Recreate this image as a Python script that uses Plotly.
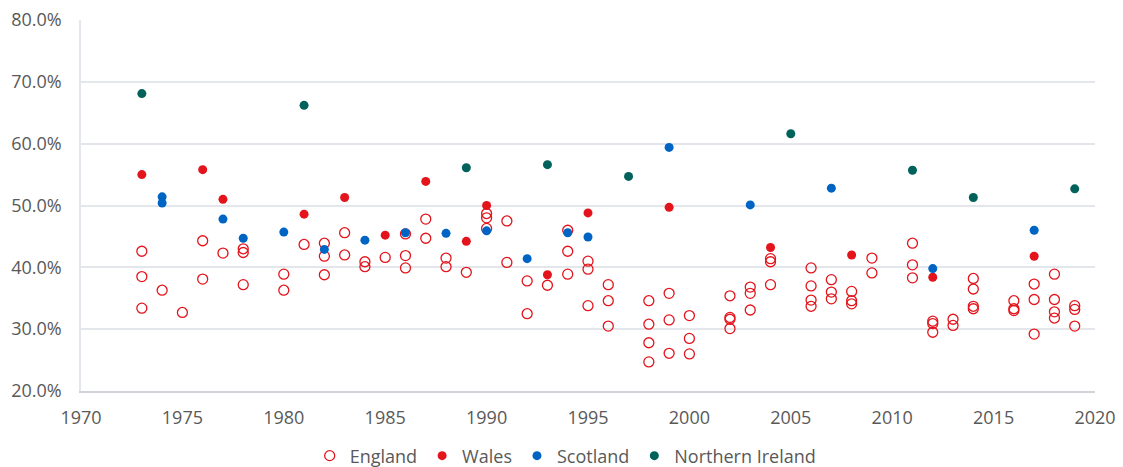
import plotly.graph_objects as go

# Shares (%) by year
england_years = [1973, 1973, 1973, 1974, 1975, 1976, 1976, 1977, 1978, 1978, 1978,
                 1980, 1980, 1981, 1982, 1982, 1982, 1983, 1983, 1984, 1984,
                 1985, 1986, 1986, 1986, 1987, 1987, 1988, 1988, 1989,
                 1990, 1990, 1990, 1991, 1991, 1992, 1992, 1993,
                 1994, 1994, 1994, 1995, 1995, 1995, 1996, 1996, 1996,
                 1998, 1998, 1998, 1998, 1999, 1999, 1999, 2000, 2000, 2000,
                 2002, 2002, 2002, 2002, 2003, 2003, 2003, 2004, 2004, 2004,
                 2006, 2006, 2006, 2006, 2007, 2007, 2007, 2008, 2008, 2008,
                 2009, 2009, 2011, 2011, 2011, 2012, 2012, 2012, 2013, 2013,
                 2014, 2014, 2014, 2014, 2016, 2016, 2016, 2017, 2017, 2017,
                 2018, 2018, 2018, 2018, 2019, 2019, 2019]
england_vals = [42.6, 38.5, 33.4, 36.3, 32.7, 44.3, 38.1, 42.3, 43.0, 42.4, 37.2,
                38.9, 36.3, 43.7, 43.9, 41.8, 38.8, 45.6, 42.0, 40.9, 40.1,
                41.6, 45.4, 41.9, 39.9, 47.8, 44.7, 41.5, 40.1, 39.2,
                48.7, 48.0, 46.3, 47.5, 40.8, 37.8, 32.5, 37.1,
                46.0, 42.6, 38.9, 41.0, 39.7, 33.8, 37.2, 34.6, 30.5,
                34.6, 30.8, 27.8, 24.7, 35.8, 31.5, 26.1, 32.2, 28.5, 26.0,
                35.4, 31.9, 31.6, 30.1, 36.8, 35.8, 33.1, 41.4, 40.9, 37.2,
                39.9, 37.0, 34.7, 33.7, 38.0, 36.0, 34.9, 36.1, 34.6, 34.1,
                41.5, 39.1, 43.9, 40.4, 38.3, 31.3, 30.9, 29.5, 31.6, 30.6,
                38.2, 36.5, 33.7, 33.3, 34.6, 33.3, 33.0, 37.3, 34.8, 29.2,
                38.9, 34.8, 32.8, 31.8, 33.8, 33.2, 30.5]

wales_years = [1973, 1976, 1977, 1981, 1983, 1985, 1987, 1989, 1990, 1993,
               1995, 1999, 2004, 2008, 2012, 2017]
wales_vals = [55.0, 55.8, 51.0, 48.6, 51.3, 45.2, 53.9, 44.2, 50.0, 38.8,
              48.8, 49.7, 43.2, 42.0, 38.4, 41.8]

scotland_years = [1974, 1974, 1977, 1978, 1980, 1982, 1984, 1986, 1988, 1990,
                  1992, 1994, 1995, 1999, 2003, 2007, 2012, 2017]
scotland_vals = [51.4, 50.4, 47.8, 44.7, 45.7, 42.9, 44.4, 45.6, 45.5, 45.9,
                 41.4, 45.6, 44.9, 59.4, 50.1, 52.8, 39.8, 46.0]

ni_years = [1973, 1981, 1989, 1993, 1997, 2005, 2011, 2014, 2019]
ni_vals = [68.1, 66.2, 56.1, 56.6, 54.7, 61.6, 55.7, 51.3, 52.7]

RED = "#E3141C"
BLUE = "#0064C4"
TEAL = "#00625A"
GREY = "#595959"

fig = go.Figure()

fig.add_trace(go.Scatter(
    x=england_years, y=[v / 100 for v in england_vals], mode="markers",
    name="England",
    marker=dict(symbol="circle-open", size=10, color=RED, line=dict(width=1.3, color=RED)),
))
fig.add_trace(go.Scatter(
    x=wales_years, y=[v / 100 for v in wales_vals], mode="markers",
    name="Wales", marker=dict(symbol="circle", size=9, color=RED),
))
fig.add_trace(go.Scatter(
    x=scotland_years, y=[v / 100 for v in scotland_vals], mode="markers",
    name="Scotland", marker=dict(symbol="circle", size=9, color=BLUE),
))
fig.add_trace(go.Scatter(
    x=ni_years, y=[v / 100 for v in ni_vals], mode="markers",
    name="Northern Ireland", marker=dict(symbol="circle", size=9, color=TEAL),
))

fig.update_layout(
    width=1123, height=467,
    margin=dict(l=81, r=28, t=20, b=76, autoexpand=False),
    paper_bgcolor="white", plot_bgcolor="white",
    font=dict(family="Open Sans", size=18, color=GREY),
    legend=dict(orientation="h", x=0.478, xanchor="center", y=-0.175, yanchor="middle",
                font=dict(size=18, color=GREY), itemwidth=30, traceorder="normal"),
)

fig.update_xaxes(
    range=[1970, 2020], dtick=5, tick0=1970, showgrid=False,
    showline=True, linecolor="#D0D4D9", linewidth=1.5,
    ticks="", ticklabelstandoff=10, tickfont=dict(size=18, color=GREY), zeroline=False,
)
fig.update_yaxes(
    range=[0.2, 0.8], dtick=0.1, tickformat=".1%",
    showgrid=True, gridcolor="#E3E6EA", gridwidth=1.5,
    showline=True, linecolor="#E3E6EA", linewidth=1.5,
    ticks="", ticklabelstandoff=14, tickfont=dict(size=18, color=GREY), zeroline=False,
)

# drop the default body margin so the figure sits flush in the window
fig.write_html("out.html", config={"displayModeBar": False},
               post_script="document.body.style.margin='0';")
